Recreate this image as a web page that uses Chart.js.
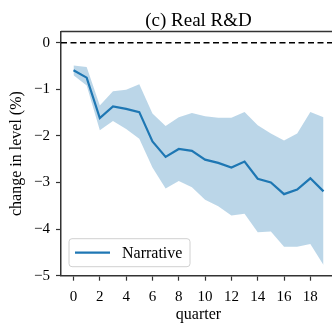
<!DOCTYPE html>
<html>
<head>
<meta charset="utf-8">
<title>Real R&amp;D</title>
<script src="https://cdn.jsdelivr.net/npm/chart.js@4"></script>
<style>
  html, body { margin: 0; padding: 0; background: #fff; overflow: hidden; }
  #wrap { width: 332px; height: 325px; overflow: hidden; }
  canvas { display: block; }
</style>
</head>
<body>
<div id="wrap"><canvas id="chartRealRD" width="336" height="325"></canvas></div>
<script>
// Response of real R&D to a narrative shock, with confidence band
const quarters = [0, 1, 2, 3, 4, 5, 6, 7, 8, 9, 10, 11, 12, 13, 14, 15, 16, 17, 18, 19];
const narrative = [-0.59, -0.75, -1.62, -1.37, -1.42, -1.49, -2.12, -2.45, -2.28, -2.32,
                   -2.51, -2.58, -2.68, -2.55, -2.92, -3.00, -3.25, -3.15, -2.91, -3.19];
const bandUpper = [-0.49, -0.52, -1.35, -1.04, -1.01, -0.89, -1.52, -1.79, -1.60, -1.51,
                   -1.58, -1.61, -1.61, -1.49, -1.77, -1.95, -2.10, -1.95, -1.49, -1.60];
const bandLower = [-0.70, -0.92, -1.88, -1.68, -1.85, -2.06, -2.68, -3.13, -2.97, -3.10,
                   -3.37, -3.51, -3.71, -3.67, -4.07, -4.05, -4.38, -4.38, -4.32, -4.77];
const xTickValues = [0, 2, 4, 6, 8, 10, 12, 14, 16, 18];
const yTickValues = [-5, -4, -3, -2, -1, 0];
const titleText = '(c) Real R&D';

const lineBlue = '#1f77b4';
const bandBlue = 'rgba(31, 119, 180, 0.3)';
const axisColor = '#333';
const serif = '"Liberation Serif", "DejaVu Serif", serif';

Chart.defaults.font.family = serif;
Chart.defaults.color = '#000';

function toPoints(values) {
    return quarters.map(function(q, i) { return { x: q, y: values[i] }; });
}

// title over the axes, zero reference line, top spine and the boxed legend
const extras = {
    id: 'extras',
    afterDatasetsDraw: function(chart) {
        const ctx = chart.ctx;
        const area = chart.chartArea;
        const y0 = chart.scales.y.getPixelForValue(0);
        ctx.save();
        ctx.strokeStyle = '#000';
        ctx.lineWidth = 1.5;
        ctx.setLineDash([6, 3.5]);
        ctx.beginPath();
        ctx.moveTo(area.left, y0);
        ctx.lineTo(area.right, y0);
        ctx.stroke();
        ctx.setLineDash([]);
        ctx.strokeStyle = axisColor;
        ctx.beginPath();
        ctx.moveTo(area.left, area.top);
        ctx.lineTo(area.right, area.top);
        ctx.stroke();
        ctx.restore();
    },
    afterDraw: function(chart) {
        const ctx = chart.ctx;
        const area = chart.chartArea;
        const ds = chart.data.datasets[2];

        ctx.save();
        ctx.fillStyle = '#000';
        ctx.font = '19px ' + serif;
        ctx.textAlign = 'center';
        ctx.textBaseline = 'alphabetic';
        ctx.fillText(titleText, (area.left + area.right) / 2, area.top - 5.5);
        ctx.restore();

        const bx = area.left + 8, bw = 121, bh = 28;
        const by = area.bottom - 9 - bh;
        ctx.save();
        ctx.fillStyle = 'rgba(255, 255, 255, 0.8)';
        ctx.strokeStyle = '#d0d0d0';
        ctx.lineWidth = 1;
        ctx.beginPath();
        ctx.roundRect(bx, by, bw, bh, 3);
        ctx.fill();
        ctx.stroke();
        const my = by + bh / 2;
        ctx.strokeStyle = ds.borderColor;
        ctx.lineWidth = ds.borderWidth;
        ctx.beginPath();
        ctx.moveTo(bx + 6, my);
        ctx.lineTo(bx + 41, my);
        ctx.stroke();
        ctx.fillStyle = '#000';
        ctx.font = '16px ' + serif;
        ctx.textBaseline = 'middle';
        ctx.fillText(ds.label, bx + 53, my + 1);
        ctx.restore();
    }
};

new Chart(document.getElementById('chartRealRD'), {
    type: 'line',
    data: {
        datasets: [
            {
                label: 'lower',
                data: toPoints(bandLower),
                borderWidth: 0,
                pointRadius: 0,
                fill: false
            },
            {
                label: 'upper',
                data: toPoints(bandUpper),
                borderWidth: 0,
                pointRadius: 0,
                backgroundColor: bandBlue,
                fill: '-1'
            },
            {
                label: 'Narrative',
                data: toPoints(narrative),
                borderColor: lineBlue,
                borderWidth: 2.2,
                pointRadius: 0,
                fill: false
            }
        ]
    },
    options: {
        responsive: false,
        animation: false,
        devicePixelRatio: 1,
        layout: { padding: { top: 31.5, left: 0, right: 0, bottom: 0 } },
        plugins: {
            legend: { display: false },
            tooltip: { enabled: false },
            title: { display: false }
        },
        scales: {
            x: {
                type: 'linear',
                min: -0.95,
                max: 19.95,
                afterBuildTicks: function(scale) {
                    scale.ticks = xTickValues.map(function(v) { return { value: v }; });
                },
                afterFit: function(scale) { scale.height = 49.3; },
                grid: { drawOnChartArea: false, tickLength: 5, tickColor: axisColor, tickWidth: 1.2 },
                border: { display: true, color: axisColor, width: 1.5 },
                ticks: { font: { size: 15 }, padding: 7, maxRotation: 0 },
                title: { display: true, text: 'quarter', font: { size: 16 }, padding: { top: 0, bottom: 1 } }
            },
            y: {
                min: -5,
                max: 0.24,
                afterBuildTicks: function(scale) {
                    scale.ticks = yTickValues.map(function(v) { return { value: v }; });
                },
                afterFit: function(scale) { scale.width = 61; },
                grid: { drawOnChartArea: false, tickLength: 5, tickColor: axisColor, tickWidth: 1.2 },
                border: { display: true, color: axisColor, width: 1.5 },
                ticks: {
                    font: { size: 15 },
                    padding: 6,
                    callback: function(value) {
                        return value < 0 ? '\u2212' + Math.abs(value) : String(value);
                    }
                },
                title: { display: true, text: 'change in level (%)', font: { size: 16 }, padding: { top: 7, bottom: 0 } }
            }
        }
    },
    plugins: [extras]
});
</script>
</body>
</html>
